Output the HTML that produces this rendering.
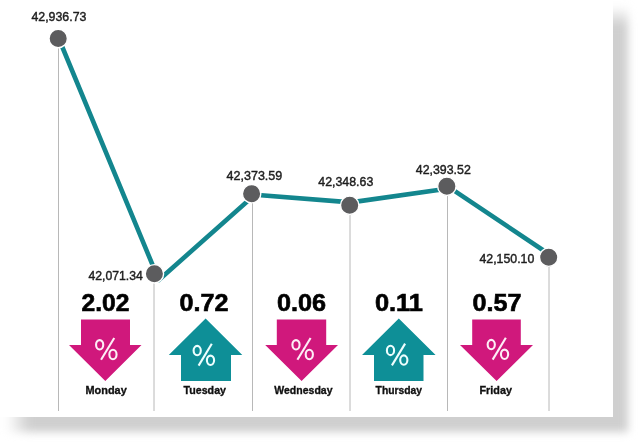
<!DOCTYPE html>
<html><head><meta charset="utf-8">
<style>
html,body{margin:0;padding:0;width:640px;height:445px;overflow:hidden;background:#fff;}
#sh{position:absolute;left:0;top:0;width:640px;height:445px;filter:blur(4px);}
#shi{position:absolute;left:6px;top:6px;width:622px;height:426px;background:linear-gradient(to right,rgba(207,207,207,0) 0px,#cfcfcf 24px);-webkit-mask-image:linear-gradient(to bottom,transparent 0px,#000 20px);}
#page{position:absolute;left:-30px;top:-30px;width:643px;height:447px;background:#fff;}
svg{position:absolute;left:0;top:0;will-change:transform;}
.v{font-family:"Liberation Sans",sans-serif;font-size:13.5px;fill:#1e1e1e;stroke:#1e1e1e;stroke-width:0.45;}
.p{font-family:"Liberation Sans",sans-serif;font-size:23px;font-weight:bold;fill:#000;stroke:#000;stroke-width:0.6;}
.d{font-family:"Liberation Sans",sans-serif;font-size:11px;font-weight:bold;fill:#111;stroke:#111;stroke-width:0.35;}
</style></head><body>
<div id="sh"><div id="shi"></div></div><div id="page"></div>
<svg width="640" height="445" viewBox="0 0 640 445">
  <g stroke="#b8b8b8" stroke-width="1">
    <line x1="58.5" y1="38" x2="58.5" y2="411"/>
    <line x1="154" y1="274" x2="154" y2="411"/>
    <line x1="252.5" y1="194" x2="252.5" y2="411"/>
    <line x1="350" y1="205" x2="350" y2="411"/>
    <line x1="447.5" y1="186" x2="447.5" y2="411"/>
    <line x1="549" y1="257" x2="549" y2="411"/>
  </g>
  <polyline points="58.8,38.5 158.8,280 254.8,194.8 351,202.4 450.4,188.2 548,253.5" fill="none" stroke="#13868e" stroke-width="4.6" stroke-linejoin="round"/>
  <g fill="#5c5c5e" stroke="#fff" stroke-width="1.4">
    <circle cx="58.2" cy="38.5" r="9.2"/>
    <circle cx="154.4" cy="273.8" r="9.2"/>
    <circle cx="251.6" cy="193.7" r="9.2"/>
    <circle cx="349.7" cy="205.3" r="9.2"/>
    <circle cx="446.85" cy="186.3" r="9.2"/>
    <circle cx="548.7" cy="257.2" r="9.2"/>
  </g>
  <g class="v">
    <text x="31.4" y="21.0" textLength="55.0" lengthAdjust="spacingAndGlyphs">42,936.73</text>
    <text x="88.4" y="280.0" textLength="54.4" lengthAdjust="spacingAndGlyphs">42,071.34</text>
    <text x="226.5" y="180.2" textLength="55.8" lengthAdjust="spacingAndGlyphs">42,373.59</text>
    <text x="318.3" y="185.7" textLength="55.0" lengthAdjust="spacingAndGlyphs">42,348.63</text>
    <text x="415.8" y="174.2" textLength="55.0" lengthAdjust="spacingAndGlyphs">42,393.52</text>
    <text x="479.5" y="262.7" textLength="54.8" lengthAdjust="spacingAndGlyphs">42,150.10</text>
  </g>
  <g class="p">
    <text x="81.6" y="310.8" textLength="47.9" lengthAdjust="spacingAndGlyphs">2.02</text>
    <text x="179.6" y="310.8" textLength="48.9" lengthAdjust="spacingAndGlyphs">0.72</text>
    <text x="276.9" y="310.8" textLength="49.1" lengthAdjust="spacingAndGlyphs">0.06</text>
    <text x="374.9" y="310.8" textLength="48.1" lengthAdjust="spacingAndGlyphs">0.11</text>
    <text x="472.6" y="310.8" textLength="48.9" lengthAdjust="spacingAndGlyphs">0.57</text>
  </g>
  <!-- arrows -->
  <g fill="#d0187c">
    <path d="M81,319.5 H130 V345 H141.5 L105.3,381 L69,345 H81 Z"/>
    <path d="M276.8,319.5 H326.2 V345 H338 L301.6,381 L265.2,345 H276.8 Z"/>
    <path d="M472.2,319.5 H520.8 V345 H533 L496.6,381 L460,345 H472.2 Z"/>
  </g>
  <g fill="#0e8f97">
    <path d="M205.6,318.5 L242.3,355 H231 V381 H181 V355 H168.8 Z"/>
    <path d="M398.8,318.5 L435.6,355 H423.5 V381 H374 V355 H362 Z"/>
  </g>
  <g fill="none" stroke-width="2.1"><g stroke="#fdeef6"><ellipse cx="99.65" cy="344.80" rx="3.6" ry="4.7"/><ellipse cx="112.95" cy="354.50" rx="3.6" ry="4.7"/><line x1="114.25" y1="338.00" x2="101.05" y2="359.80"/></g><g stroke="#eefefe"><ellipse cx="197.20" cy="350.60" rx="3.6" ry="4.7"/><ellipse cx="210.50" cy="360.30" rx="3.6" ry="4.7"/><line x1="211.80" y1="343.80" x2="198.60" y2="365.60"/></g><g stroke="#fdeef6"><ellipse cx="296.00" cy="344.80" rx="3.6" ry="4.7"/><ellipse cx="309.30" cy="354.50" rx="3.6" ry="4.7"/><line x1="310.60" y1="338.00" x2="297.40" y2="359.80"/></g><g stroke="#eefefe"><ellipse cx="390.50" cy="350.40" rx="3.6" ry="4.7"/><ellipse cx="403.80" cy="360.10" rx="3.6" ry="4.7"/><line x1="405.10" y1="343.60" x2="391.90" y2="365.40"/></g><g stroke="#fdeef6"><ellipse cx="491.25" cy="344.60" rx="3.6" ry="4.7"/><ellipse cx="504.55" cy="354.30" rx="3.6" ry="4.7"/><line x1="505.85" y1="337.80" x2="492.65" y2="359.60"/></g></g>
  <g class="d">
    <text x="85.5" y="393.7" textLength="41.2" lengthAdjust="spacingAndGlyphs">Monday</text>
    <text x="183.5" y="393.7" textLength="42.5" lengthAdjust="spacingAndGlyphs">Tuesday</text>
    <text x="274.3" y="393.7" textLength="58.2" lengthAdjust="spacingAndGlyphs">Wednesday</text>
    <text x="375.6" y="393.7" textLength="46.4" lengthAdjust="spacingAndGlyphs">Thursday</text>
    <text x="479.5" y="393.7" textLength="32.4" lengthAdjust="spacingAndGlyphs">Friday</text>
  </g>
</svg>
</body></html>
